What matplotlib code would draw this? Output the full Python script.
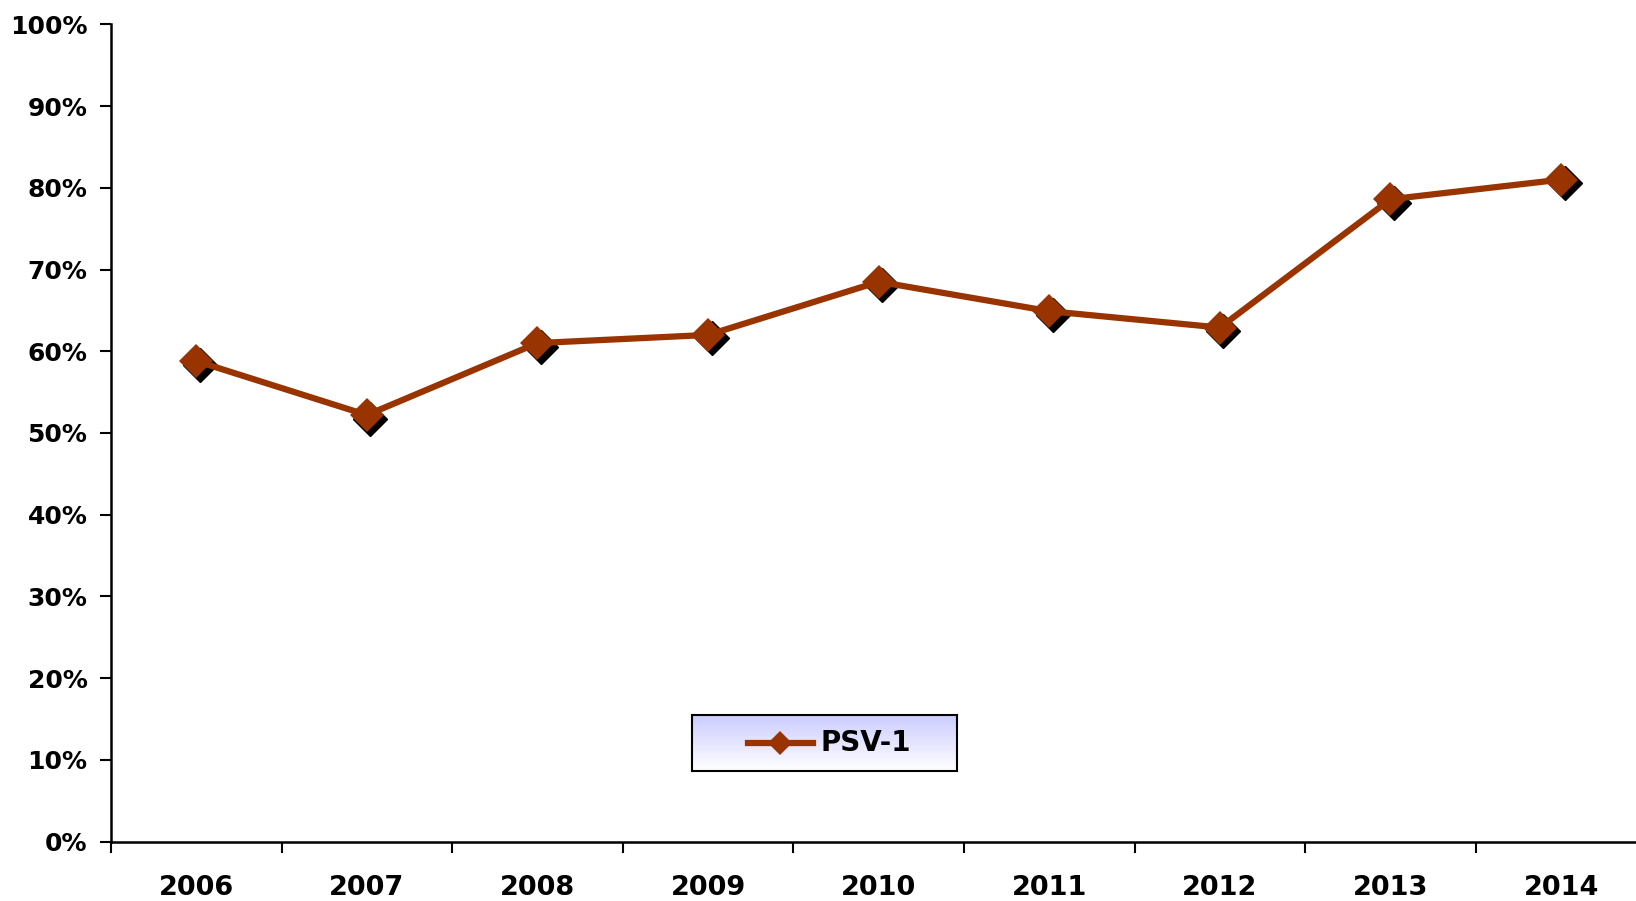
import numpy as np
import matplotlib
matplotlib.use("Agg")
import matplotlib.pyplot as plt
import matplotlib.transforms as mtransforms
from matplotlib.ticker import FixedLocator, FuncFormatter

years = ['2006', '2007', '2008', '2009', '2010', '2011', '2012', '2013', '2014']
psv1 = [58.8, 52.2, 61.0, 62.0, 68.5, 64.9, 62.9, 78.6, 81.0]
series_name = 'PSV-1'
line_color = '#993300'

plt.rcParams['font.family'] = 'DejaVu Sans'
plt.rcParams['font.weight'] = 'bold'

fig = plt.figure(figsize=(16.36, 9.01), dpi=100)
# axes runs off the right edge, like the original
ax = fig.add_axes([111/1636, (901-841.7)/901, 9*170.6/1636, (841.7-24.3)/901])

x = np.arange(len(years)) + 0.5

# shadow under the markers
shadow = mtransforms.offset_copy(ax.transData, fig=fig, x=3.5, y=-3.5, units='dots')
ax.plot(x, psv1, linestyle='none', marker='D', markersize=17,
        color='black', transform=shadow, zorder=2)
ax.plot(x, psv1, color=line_color, lw=4.5, marker='D', markersize=17,
        markeredgewidth=0, zorder=3, solid_capstyle='round')

ax.set_xlim(0, len(years))
ax.set_ylim(0, 100)

ax.yaxis.set_major_locator(FixedLocator(range(0, 101, 10)))
ax.yaxis.set_major_formatter(FuncFormatter(lambda v, p: '%d%%' % v))
ax.tick_params(axis='y', length=8, width=1.5, pad=9, labelsize=18, direction='out')

ax.xaxis.set_major_locator(FixedLocator(range(0, len(years) + 1)))
ax.xaxis.set_major_formatter(FuncFormatter(lambda v, p: ''))
ax.xaxis.set_minor_locator(FixedLocator(x))
ax.set_xticklabels(years, minor=True)
ax.tick_params(axis='x', which='major', length=8, width=1.5, direction='out')
ax.tick_params(axis='x', which='minor', length=0, pad=24, labelsize=19.5)

for side in ['top', 'right']:
    ax.spines[side].set_visible(False)
for side in ['left', 'bottom']:
    ax.spines[side].set_linewidth(1.8)

# legend box with a lavender-to-white gradient
lx0, ly0, lx1, ly1 = 692, 715, 957, 771
lax = fig.add_axes([lx0/1636, (901-ly1)/901, (lx1-lx0)/1636, (ly1-ly0)/901])
grad = np.linspace(0, 1, 100).reshape(-1, 1)
top_c = np.array([0.80, 0.80, 1.0])
bot_c = np.array([1.0, 1.0, 1.0])
img = top_c[None, None, :] * (1 - grad[:, :, None]) + bot_c[None, None, :] * grad[:, :, None]
lax.imshow(img, aspect='auto', extent=[0, 1, 0, 1])
lax.set_xticks([])
lax.set_yticks([])
for s in lax.spines.values():
    s.set_linewidth(1.5)
lax.plot([0.21, 0.455], [0.5, 0.5], color=line_color, lw=4.5)
lax.plot([0.333], [0.5], marker='D', markersize=12, color=line_color, markeredgewidth=0)
lax.text(0.485, 0.5, series_name, fontsize=20, fontweight='bold', va='center', ha='left')
lax.set_xlim(0, 1)
lax.set_ylim(0, 1)

fig.savefig('out.png', dpi=100)
